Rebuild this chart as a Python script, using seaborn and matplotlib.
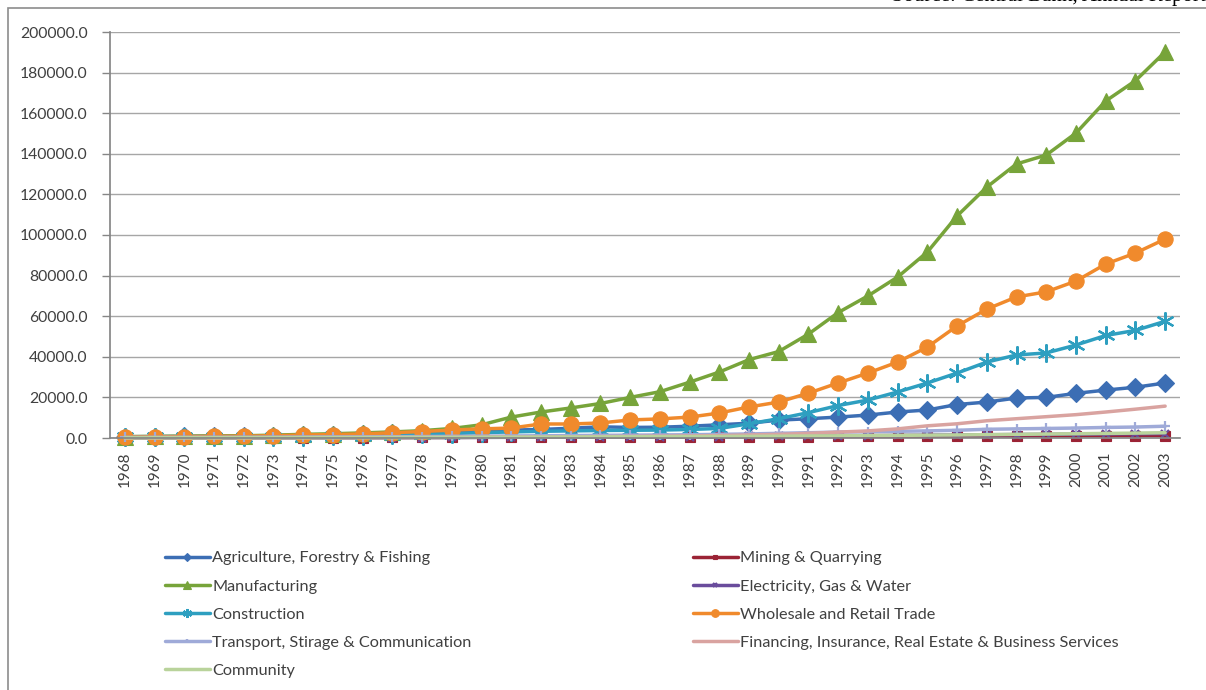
import numpy as np
import pandas as pd
import matplotlib
matplotlib.use("Agg")
import matplotlib.pyplot as plt
import seaborn as sns
from matplotlib.patches import Rectangle
from matplotlib.ticker import FuncFormatter, MultipleLocator

years = list(range(1968, 2004))

agriculture = [600, 700, 800, 900, 900, 1100, 1500, 1600, 1800, 2300, 2600, 2900,
               3300, 3900, 4200, 4800, 5500, 5200, 5300, 5800, 6500, 7300, 8800, 9500,
               10300, 11300, 12800, 13800, 16500, 17700, 19700, 20000, 22000, 23600, 25000, 27100]
mining = [100, 100, 100, 100, 100, 150, 200, 200, 200, 250, 300, 300,
          350, 400, 400, 450, 500, 500, 500, 550, 600, 650, 700, 700,
          750, 800, 800, 850, 900, 950, 1000, 1000, 1050, 1100, 1150, 1200]
manufacturing = [700, 800, 900, 1000, 1100, 1400, 1800, 2100, 2500, 3000, 3600, 4700,
                 6500, 10300, 12800, 14800, 17000, 20000, 22800, 27500, 32500, 38600, 42600, 51200,
                 61800, 70000, 79300, 91600, 109400, 123600, 135000, 139400, 150200, 166000, 176000, 190200]
electricity = [50, 50, 60, 60, 70, 80, 100, 120, 140, 160, 200, 250,
               300, 350, 400, 450, 500, 550, 600, 650, 700, 800, 900, 1000,
               1100, 1200, 1300, 1400, 1500, 1600, 1700, 1800, 1900, 2000, 2100, 2200]
construction = [300, 350, 400, 450, 500, 600, 700, 900, 1100, 1400, 1800, 2200,
                2600, 3000, 3300, 3500, 3700, 3800, 3900, 4200, 4700, 7000, 9500, 12500,
                16000, 18700, 22700, 27100, 32000, 37400, 40900, 41900, 45800, 50500, 53000, 57500]
wholesale = [500, 600, 700, 800, 900, 1100, 1500, 1700, 2000, 2600, 3200, 3900,
             4500, 4900, 6900, 6900, 7400, 8900, 9400, 10300, 12300, 15300, 17700, 22100,
             27100, 32000, 37400, 44800, 55200, 63500, 69500, 72000, 77300, 85700, 91100, 98000]
transport = [300, 320, 340, 360, 380, 420, 480, 520, 560, 620, 700, 800,
             900, 1000, 1100, 1200, 1300, 1400, 1500, 1600, 1800, 2000, 2300, 2600,
             2900, 3100, 3300, 3500, 3800, 4300, 4500, 4700, 4900, 5200, 5400, 5800]
financing = [100, 110, 120, 130, 140, 160, 180, 200, 230, 260, 300, 350,
             400, 450, 500, 600, 700, 800, 900, 1000, 1200, 1500, 1800, 2300,
             2900, 3500, 4500, 6000, 7000, 8500, 9500, 10500, 11500, 12800, 14200, 15700]
community = [100, 110, 120, 130, 140, 150, 170, 190, 210, 240, 270, 300,
             350, 400, 450, 500, 550, 600, 650, 700, 750, 800, 900, 1000,
             1100, 1200, 1300, 1400, 1500, 1650, 1800, 1950, 2100, 2250, 2400, 2600]

series_names = ["Agriculture, Forestry & Fishing", "Mining & Quarrying", "Manufacturing",
                "Electricity, Gas & Water", "Construction", "Wholesale and Retail Trade",
                "Transport, Stirage & Communication",
                "Financing, Insurance, Real Estate & Business Services", "Community"]
series_values = [agriculture, mining, manufacturing, electricity, construction, wholesale,
                 transport, financing, community]

colors = ["#3C6EB4", "#9B2335", "#77A43A", "#6A4C9C", "#2E9FC0", "#F08A2C",
          "#9FAAD8", "#D9A3A0", "#B9D39B"]
markers = ["D", "s", "^", "x", (6, 2, 0), "o", "+", None, None]
msizes = [9, 7, 11, 6, 13, 11, 7, 0, 0]

sns.set_theme(style="white")
plt.rcParams['font.family'] = ['Lato', 'DejaVu Sans']

fig = plt.figure(figsize=(12.06, 6.90), dpi=100)
fig.patch.set_facecolor("white")
W, H = 1206, 690
ax = fig.add_axes([110 / W, 1 - 438 / H, (1180 - 110) / W, (438 - 32) / H])

x_idx = np.arange(len(years))
for name, vals, c, m, ms in zip(series_names, series_values, colors, markers, msizes):
    kw = dict(color=c, linewidth=2.5, ax=ax, label=name, clip_on=False)
    if m is not None:
        kw.update(marker=m, markersize=ms, markeredgecolor=c, markerfacecolor=c,
                  markeredgewidth=1.6 if m in ("x", "+", (6, 2, 0)) else 0.8)
    sns.lineplot(x=x_idx, y=vals, **kw)

ax.set_xlim(-0.5, len(years) - 0.5)
ax.set_ylim(0, 200000)
ax.yaxis.set_major_locator(MultipleLocator(20000))
ax.yaxis.set_major_formatter(FuncFormatter(lambda v, p: f"{v:.1f}"))
ax.grid(axis="y", color="#A6A6A6", linewidth=1.0)
ax.set_axisbelow(True)
ax.set_xticks(x_idx)
ax.set_xticklabels([str(y) for y in years], rotation=90, fontsize=11, color="#404040")
ax.set_xticks(np.arange(-0.5, len(years), 1.0), minor=True)
ax.tick_params(axis="x", which="major", length=0, pad=10)
ax.tick_params(axis="x", which="minor", length=5, color="#868686", width=1, direction="out")
ax.tick_params(axis="y", length=6, color="#868686", width=1, labelsize=11.3,
               labelcolor="#404040", direction="out", pad=10, left=True)
for s in ["top", "right"]:
    ax.spines[s].set_visible(False)
ax.spines["left"].set_color("#868686")
ax.spines["bottom"].set_color("#868686")
ax.set_xlabel("")
ax.set_ylabel("")
if ax.get_legend() is not None:
    ax.get_legend().remove()

# legends (two columns)
hl, ll = ax.get_legend_handles_labels()
hmap = dict(zip(ll, hl))
col1 = [series_names[i] for i in (0, 2, 4, 6, 8)]
col2 = [series_names[i] for i in (1, 3, 5, 7)]
common = dict(loc="upper left", frameon=False, fontsize=11.7, handlelength=2.75,
              handletextpad=0.15, labelspacing=0.85, borderpad=0, borderaxespad=0,
              markerscale=0.5, labelcolor="#404040")
leg1 = fig.legend([hmap[n] for n in col1], col1,
                  bbox_to_anchor=(165 / W, 1 - 551 / H), **common)
leg2 = fig.legend([hmap[n] for n in col2], col2,
                  bbox_to_anchor=(693 / W, 1 - 551 / H), **common)

# chart border
fig.patches.append(Rectangle((8 / W, -0.01), 1.2, 1 - 8 / H + 0.01, transform=fig.transFigure,
                             fill=False, edgecolor="#8C8C8C", linewidth=1.2))

# clipped source text at the very top
fig.text(1.0, 1 - 1 / H, "Source: Central Bank, Annual Report", ha="right", va="baseline",
         fontsize=15, family="Liberation Serif", color="black")

fig.savefig("out.png", dpi=100, facecolor="white")
